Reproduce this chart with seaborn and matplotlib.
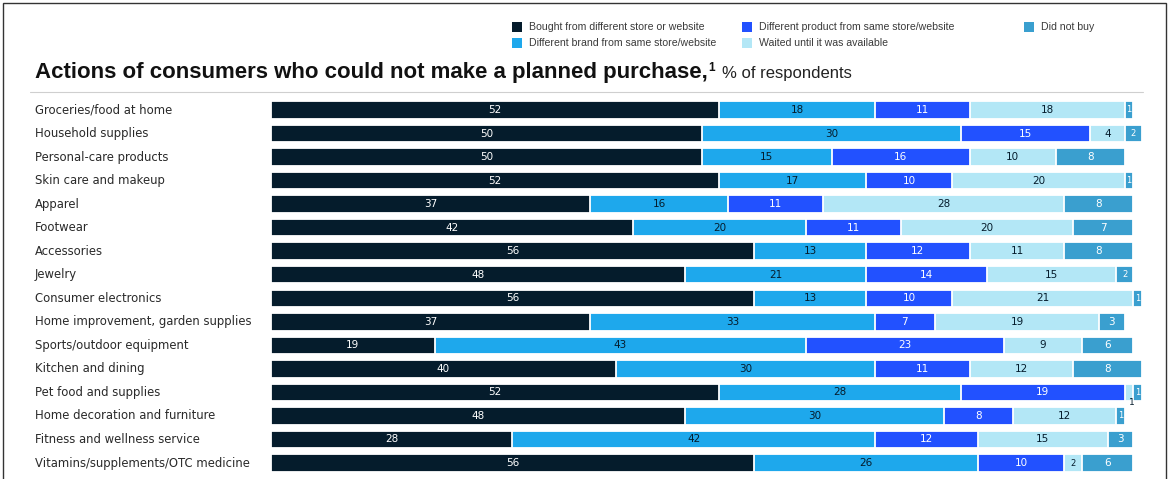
import numpy as np
import pandas as pd
import matplotlib
matplotlib.use("Agg")
import matplotlib.pyplot as plt
from matplotlib.patches import Rectangle
from matplotlib.lines import Line2D
from matplotlib.transforms import blended_transform_factory
import seaborn as sns

categories = [
    "Groceries/food at home", "Household supplies", "Personal-care products",
    "Skin care and makeup", "Apparel", "Footwear", "Accessories", "Jewelry",
    "Consumer electronics", "Home improvement, garden supplies",
    "Sports/outdoor equipment", "Kitchen and dining", "Pet food and supplies",
    "Home decoration and furniture", "Fitness and wellness service",
    "Vitamins/supplements/OTC medicine",
]
bought_elsewhere = [52, 50, 50, 52, 37, 42, 56, 48, 56, 37, 19, 40, 52, 48, 28, 56]
different_brand = [18, 30, 15, 17, 16, 20, 13, 21, 13, 33, 43, 30, 28, 30, 42, 26]
different_product = [11, 15, 16, 10, 11, 11, 12, 14, 10, 7, 23, 11, 19, 8, 12, 10]
waited = [18, 4, 10, 20, 28, 20, 11, 15, 21, 19, 9, 12, 1, 12, 15, 2]
did_not_buy = [1, 2, 8, 1, 8, 7, 8, 2, 1, 3, 6, 8, 1, 1, 3, 6]

series_names = [
    "Bought from different store or website",
    "Different brand from same store/website",
    "Different product from same store/website",
    "Waited until it was available",
    "Did not buy",
]
series_values = [bought_elsewhere, different_brand, different_product, waited, did_not_buy]
colors = ["#051c2c", "#1ea8ec", "#2251ff", "#b3e7f6", "#3a9fcf"]
label_colors = ["white", "#051c2c", "white", "#051c2c", "white"]

sns.set_theme(style="white")
plt.rcParams["font.family"] = ["Liberation Sans", "DejaVu Sans"]

W, H = 1170, 479
fig = plt.figure(figsize=(W / 100, H / 100), dpi=100)
ax_left, ax_right = 271 / W, 1142 / W
ax_top, ax_bottom = 98.2 / H, 474.8 / H
ax = fig.add_axes([ax_left, 1 - ax_bottom, ax_right - ax_left, ax_bottom - ax_top])

df = pd.DataFrame({name: vals for name, vals in zip(series_names, series_values)})
df.insert(0, "category", categories)
cum = df[series_names].cumsum(axis=1)
cum["category"] = categories

# Stacked bars: draw cumulative totals back-to-front
for name, col in reversed(list(zip(series_names, colors))):
    sns.barplot(data=cum, x=name, y="category", orient="h", color=col,
                saturation=1, width=0.74, edgecolor="white", linewidth=1.3, ax=ax)

ax.set_xlim(0, 101)
ax.set_ylim(len(categories) - 0.5, -0.5)
ax.set_xlabel("")
ax.set_ylabel("")
ax.set_xticks([])
ax.set_yticks([])
for s in ax.spines.values():
    s.set_visible(False)

# Segment value labels
for i in range(len(categories)):
    left = 0
    for j, name in enumerate(series_names):
        v = df.loc[i, name]
        cx = left + v / 2
        if j == 3 and v == 1:
            ax.text(cx + 0.3, i + 0.42, f"{v}", ha="center", va="center",
                    fontsize=6.5, color="#051c2c", family="DejaVu Sans")
        else:
            fs = 7.5 if v >= 3 else 6
            ax.text(cx, i, f"{v}", ha="center", va="center", fontsize=fs,
                    color=label_colors[j], family="DejaVu Sans")
        left += v

# Category labels
trans = blended_transform_factory(fig.transFigure, ax.transData)
for i, cat in enumerate(categories):
    ax.text(35 / W, i, cat, transform=trans, ha="left", va="center",
            fontsize=8.4, color="#2a2a2a", family="DejaVu Sans")

# Title
fig.text(35 / W, 1 - 78 / H, "Actions of consumers who could not make a planned purchase,",
         fontsize=16, fontweight="bold", color="#111111", ha="left", va="baseline")
fig.text(708 / W, 1 - 71 / H, "1", fontsize=8.5, fontweight="bold", color="#111111",
         ha="left", va="baseline")
fig.text(722 / W, 1 - 78 / H, "% of respondents", fontsize=12, color="#222222",
         ha="left", va="baseline")
fig.add_artist(Line2D([30 / W, 1143 / W], [1 - 92 / H, 1 - 92 / H],
                      transform=fig.transFigure, color="#cfcfcf", lw=0.8))

# Legend, laid out in three columns
legend_pos = [(512, 27), (512, 43), (742, 27), (742, 43), (1024, 27)]
for (lx, ly), name, col in zip(legend_pos, series_names, colors):
    fig.add_artist(Rectangle((lx / W, 1 - (ly + 5) / H), 10 / W, 10 / H,
                             transform=fig.transFigure, facecolor=col,
                             edgecolor="none"))
    fig.text((lx + 17) / W, 1 - ly / H, name, fontsize=7.6, color="#3a3a3a",
             ha="left", va="center")

# Frame around the figure
fig.add_artist(Rectangle((3 / W, -0.02), 1 - 7 / W, 1.02 - 3 / H,
                         transform=fig.transFigure, fill=False,
                         edgecolor="#333333", lw=1.0))

fig.savefig("out.png", dpi=100, facecolor="white")
